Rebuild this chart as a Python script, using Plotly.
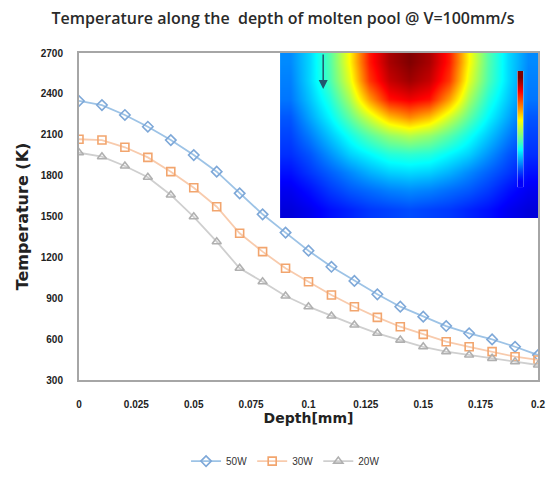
import plotly.graph_objects as go

depth = [0, 0.01, 0.02, 0.03, 0.04, 0.05, 0.06, 0.07, 0.08, 0.09, 0.10,
         0.11, 0.12, 0.13, 0.14, 0.15, 0.16, 0.17, 0.18, 0.19, 0.20]
t_50w = [2348, 2318, 2245, 2159, 2061, 1951, 1829, 1670, 1516, 1382, 1249,
         1131, 1027, 929, 838, 765, 696, 643, 598, 544, 483]
t_30w = [2067, 2061, 2008, 1934, 1829, 1711, 1572, 1377, 1242, 1120, 1021,
         924, 838, 760, 691, 635, 581, 544, 508, 471, 447]
t_20w = [1968, 1939, 1871, 1788, 1658, 1498, 1315, 1120, 1021, 916, 838,
         770, 704, 643, 593, 544, 508, 483, 459, 434, 410]

x_tick_vals = [0, 0.025, 0.05, 0.075, 0.1, 0.125, 0.15, 0.175, 0.2]
x_tick_text = ["0", "0.025", "0.05", "0.075", "0.1", "0.125", "0.15", "0.175", "0.2"]
y_tick_vals = [300, 600, 900, 1200, 1500, 1800, 2100, 2400, 2700]

# inset contour picture (normalised temperature, top row = surface)
inset_half = [
    [0.26, 0.34, 0.46, 0.63, 0.85, 0.96, 1.00],
    [0.25, 0.34, 0.45, 0.60, 0.82, 0.93, 0.97],
    [0.24, 0.32, 0.41, 0.54, 0.72, 0.86, 0.89],
    [0.21, 0.29, 0.37, 0.47, 0.58, 0.69, 0.74],
    [0.19, 0.25, 0.32, 0.39, 0.46, 0.52, 0.55],
    [0.17, 0.21, 0.27, 0.33, 0.37, 0.41, 0.42],
    [0.14, 0.18, 0.22, 0.26, 0.30, 0.33, 0.34],
    [0.11, 0.14, 0.18, 0.21, 0.23, 0.25, 0.26],
    [0.09, 0.11, 0.14, 0.16, 0.18, 0.19, 0.20],
]
inset_z = [row + row[-2::-1] for row in inset_half]
legend_bar = [[1.0], [0.9], [0.8], [0.7], [0.6], [0.5], [0.4], [0.3], [0.2], [0.12]]

jet = [[0, "rgb(0,0,128)"], [0.125, "rgb(0,0,255)"], [0.375, "rgb(0,255,255)"],
       [0.625, "rgb(255,255,0)"], [0.875, "rgb(255,0,0)"], [1, "rgb(128,0,0)"]]

fig = go.Figure()

series = [
    ("50W", t_50w, "#9DC3E6", "#7EA8D8", "diamond-open"),
    ("30W", t_30w, "#F8CBAD", "#F2A56E", "square-open"),
    ("20W", t_20w, "#CFCFCF", "#B0B0B0", "triangle-up-open"),
]
for name, vals, lc, mc, sym in series:
    fig.add_trace(go.Scatter(
        x=depth, y=vals, name=name, mode="lines+markers",
        line=dict(color=lc, width=1.8),
        marker=dict(symbol=sym, size=8, color=mc, line=dict(width=1.6, color=mc)),
    ))

fig.add_trace(go.Heatmap(
    z=inset_z, xaxis="x2", yaxis="y2", colorscale=jet, zmin=0, zmax=1,
    zsmooth="best", showscale=False, hoverinfo="skip",
))
fig.add_trace(go.Heatmap(
    z=legend_bar, xaxis="x3", yaxis="y3", colorscale=jet, zmin=0, zmax=1,
    zsmooth="best", showscale=False, hoverinfo="skip",
))

axis_line = dict(showline=True, linecolor="#A6A6A6", linewidth=2, mirror=True,
                 showgrid=False, zeroline=False, ticks="")
tick_font = dict(family="Liberation Sans", size=10, color="#222222", weight="bold")

fig.update_layout(
    width=555, height=488,
    margin=dict(l=79, r=10, t=53, b=108),
    paper_bgcolor="white", plot_bgcolor="white",
    title=dict(text="Temperature along the  depth of molten pool @ V=100mm/s",
               x=0.51, xanchor="center", y=0.963, yanchor="middle",
               font=dict(family="Open Sans", size=16, color="#2A2A2A", weight=600)),
    xaxis=dict(range=[0, 0.2], tickvals=x_tick_vals, ticktext=x_tick_text,
               tickfont=tick_font, ticklabelstandoff=14, ticklabeloverflow="allow",
               title=dict(text="<b>Depth[mm]</b>", standoff=3,
                          font=dict(family="DejaVu Sans", size=14, color="#222222")),
               **axis_line),
    yaxis=dict(range=[300, 2700], tickvals=y_tick_vals, tickfont=tick_font,
               ticklabelstandoff=12,
               title=dict(text="<b>Temperature (K)</b>", standoff=8,
                          font=dict(family="DejaVu Sans", size=16, color="#222222")),
               **axis_line),
    xaxis2=dict(domain=[0.438, 1.0], anchor="y2", range=[-0.5, 12.5],
                visible=False),
    yaxis2=dict(domain=[0.495, 1.0], anchor="x2", range=[8.5, -0.5],
                visible=False),
    xaxis3=dict(domain=[0.955, 0.968], anchor="y3", range=[-0.5, 0.5],
                visible=False),
    yaxis3=dict(domain=[0.59, 0.945], anchor="x3", range=[9.5, -0.5],
                visible=False),
    legend=dict(orientation="h", x=0.45, xanchor="center", y=-0.248, yanchor="middle",
                font=dict(family="Liberation Sans", size=10, color="#333333"),
                itemwidth=30, tracegroupgap=0),
    showlegend=True,
)

fig.add_annotation(
    x=0.532, y=0.89, xref="paper", yref="paper", ax=0, ay=-36,
    axref="pixel", ayref="pixel", text="", showarrow=True,
    arrowhead=2, arrowsize=1.2, arrowwidth=1.5, arrowcolor="#23566E",
)

fig.write_html("out.html")
